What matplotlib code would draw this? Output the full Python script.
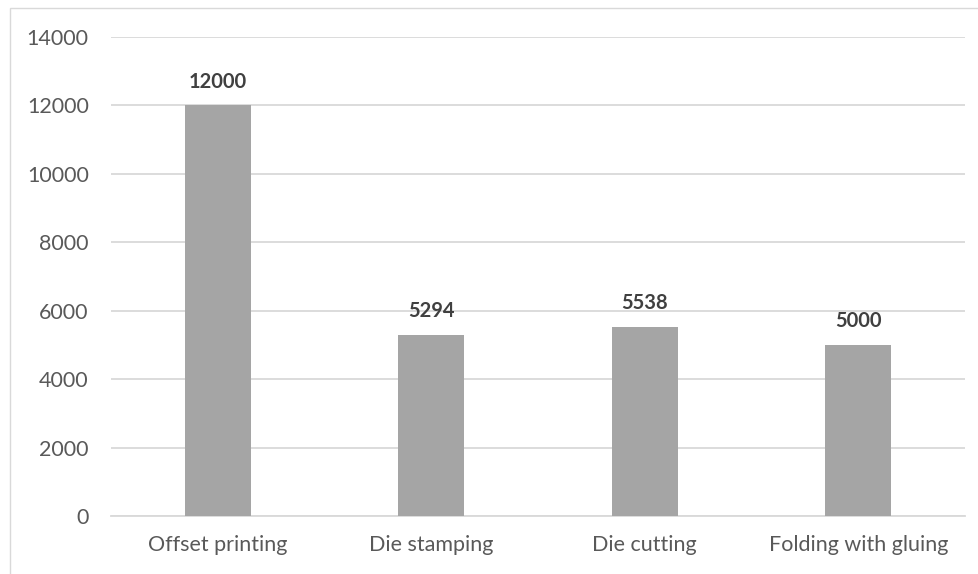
import matplotlib.pyplot as plt
from matplotlib.patches import Rectangle

# data
categories = ["Offset printing", "Die stamping", "Die cutting", "Folding with gluing"]
values = [12000, 5294, 5538, 5000]
y_ticks = [0, 2000, 4000, 6000, 8000, 10000, 12000, 14000]

BAR = "#A5A5A5"
GRID = "#D9D9D9"
TXT = "#595959"
BOLD_TXT = "#404040"

plt.rcParams["font.family"] = ["Lato", "DejaVu Sans"]

fig = plt.figure(figsize=(9.79, 5.74), dpi=100)
fig.patch.set_facecolor("white")

# chart area border (runs off the right and bottom edge)
fig.patches.append(Rectangle((10 / 979, -0.1), 1.2, 1.1 - 8 / 574,
                             transform=fig.transFigure, fill=False,
                             edgecolor=GRID, linewidth=1.0))

ax = fig.add_axes([111 / 979, 58 / 574, 854 / 979, 479 / 574])
x = range(len(categories))
bars = ax.bar(x, values, width=0.31, color=BAR, zorder=3)

for b, v in zip(bars, values):
    ax.annotate(f"{v}", (b.get_x() + b.get_width() / 2, v),
                xytext=(0, 10), textcoords="offset points",
                ha="center", va="bottom", fontsize=14.5, fontweight="bold",
                color=BOLD_TXT)

ax.set_xlim(-0.5, len(categories) - 0.5)
ax.set_ylim(0, 14000)
ax.set_yticks(y_ticks)
ax.set_xticks(list(x))
ax.set_xticklabels(categories)
ax.yaxis.grid(True, color=GRID, linewidth=1.3, zorder=0)
ax.set_axisbelow(True)
for sp in ["top", "right", "left"]:
    ax.spines[sp].set_visible(False)
ax.spines["bottom"].set_color(GRID)
ax.spines["bottom"].set_linewidth(1.3)
ax.tick_params(axis="both", length=0, labelsize=15.5, colors=TXT)
ax.tick_params(axis="y", pad=16)
ax.tick_params(axis="x", pad=14)

fig.savefig("out.png", dpi=100, facecolor="white")
